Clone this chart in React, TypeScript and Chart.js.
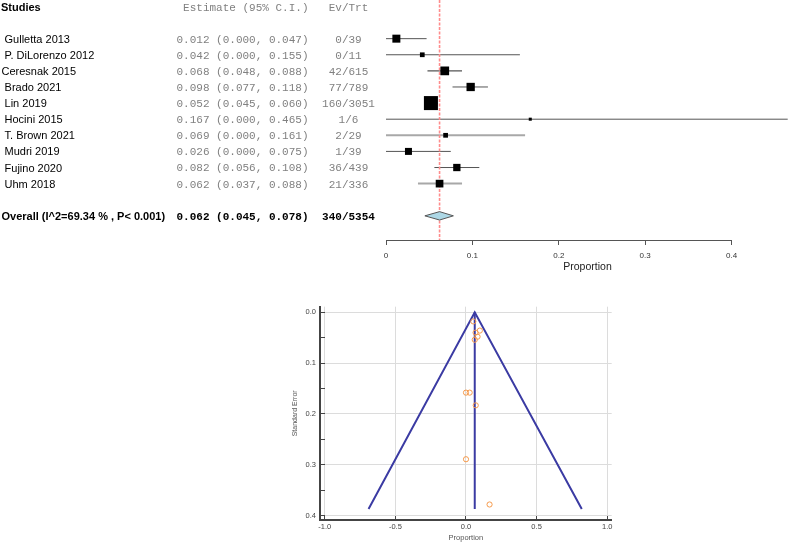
import React, { useEffect, useRef } from 'react';
import { Chart, registerables } from 'chart.js';

Chart.register(...registerables);

// ---------- Forest plot data ----------
const studyNames = [' Gulletta 2013', ' P. DiLorenzo 2012', 'Ceresnak 2015', ' Brado 2021', ' Lin 2019', ' Hocini 2015', ' T. Brown 2021', ' Mudri 2019', ' Fujino 2020', ' Uhm 2018'];
const estimates = [0.012, 0.042, 0.068, 0.098, 0.052, 0.167, 0.069, 0.026, 0.082, 0.062];
const lowerCI = [0.0, 0.0, 0.048, 0.077, 0.045, 0.0, 0.0, 0.0, 0.056, 0.037];
const upperCI = [0.047, 0.155, 0.088, 0.118, 0.06, 0.465, 0.161, 0.075, 0.108, 0.088];
const events = [0, 0, 42, 77, 160, 1, 2, 1, 36, 21];
const totals = [39, 11, 615, 789, 3051, 6, 29, 39, 439, 336];
const weights = [10.3, 3.6, 12.3, 11.1, 31.7, 1.5, 3.6, 7.9, 8.6, 9.5];
const overallLabel = 'Overall (I^2=69.34 % , P< 0.001)';
const overallEstimate = 0.062;
const overallLower = 0.045;
const overallUpper = 0.078;
const overallEvents = 340;
const overallTotal = 5354;
const forestTicks = [0, 0.1, 0.2, 0.3, 0.4];

// ---------- Funnel plot data ----------
const funnelProportion = [0.0, 0.0, 0.068, 0.098, 0.052, 0.167, 0.069, 0.026, 0.082, 0.062];
const funnelSE = [0.158, 0.289, 0.040, 0.036, 0.018, 0.378, 0.183, 0.158, 0.048, 0.054];
const funnelPooled = 0.062;
const funnelLeft = -0.69;
const funnelRight = 0.82;
const funnelMaxSE = 0.387;
const funnelXTicks = [-1, -0.5, 0, 0.5, 1];
const funnelYTicks = [0, 0.05, 0.1, 0.15, 0.2, 0.25, 0.3, 0.35, 0.4];

const SANS = '"Liberation Sans", Arial, sans-serif';
const MONO = '"Liberation Mono", "Courier New", monospace';

const ciColors = ['#555', '#555', '#555', '#555', '#555', '#555', '#a8a8a8', '#555', '#555', '#a8a8a8'];
const ciWidths = [1, 1, 1.2, 1, 1, 1, 2, 1, 1, 2];

const zeroPad = (s: any) => {
  s.paddingLeft = 0;
  s.paddingRight = 0;
  s.paddingTop = 0;
  s.paddingBottom = 0;
};

export default function App() {
  const forestRef = useRef<HTMLCanvasElement | null>(null);
  const funnelRef = useRef<HTMLCanvasElement | null>(null);

  useEffect(() => {
    Chart.defaults.font.family = SANS;
    const overallRow = studyNames.length + 1;

    const fmt = (e: number, l: number, u: number) => `${e.toFixed(3)} (${l.toFixed(3)}, ${u.toFixed(3)})`;

    const forestText = {
      id: 'forestText',
      afterDraw(chart: any) {
        const ctx = chart.ctx;
        const ys = chart.scales.y;
        const xs = chart.scales.x;
        ctx.save();
        ctx.textBaseline = 'middle';
        // header
        const hy = ys.getPixelForValue(-2) + 2;
        ctx.fillStyle = '#000';
        ctx.font = `bold 11px ${SANS}`;
        ctx.textAlign = 'left';
        ctx.fillText('Studies', 1, hy);
        ctx.fillStyle = '#808080';
        ctx.font = `11px ${MONO}`;
        ctx.textAlign = 'right';
        ctx.fillText('Estimate (95% C.I.)', 308.5, hy);
        ctx.textAlign = 'center';
        ctx.fillText('Ev/Trt', 348.5, hy);
        // rows
        studyNames.forEach((name, i) => {
          const y = ys.getPixelForValue(i) + 1;
          ctx.fillStyle = '#000';
          ctx.font = `11px ${SANS}`;
          ctx.textAlign = 'left';
          ctx.fillText(name, 1.5, y);
          ctx.fillStyle = '#808080';
          ctx.font = `11px ${MONO}`;
          ctx.textAlign = 'right';
          ctx.fillText(fmt(estimates[i], lowerCI[i], upperCI[i]), 308.5, y);
          ctx.textAlign = 'center';
          ctx.fillText(`${events[i]}/${totals[i]}`, 348.5, y);
        });
        const oy = ys.getPixelForValue(overallRow) + 1;
        ctx.fillStyle = '#000';
        ctx.font = `bold 11px ${SANS}`;
        ctx.textAlign = 'left';
        ctx.fillText(overallLabel, 1.5, oy);
        ctx.font = `bold 11px ${MONO}`;
        ctx.textAlign = 'right';
        ctx.fillText(fmt(overallEstimate, overallLower, overallUpper), 308.5, oy);
        ctx.textAlign = 'center';
        ctx.fillText(`${overallEvents}/${overallTotal}`, 348.5, oy);
        // axis line from first to last tick
        const ax0 = xs.getPixelForValue(forestTicks[0]);
        const ax1 = xs.getPixelForValue(forestTicks[forestTicks.length - 1]);
        const by = Math.round(chart.chartArea.bottom) + 0.5;
        ctx.strokeStyle = '#555';
        ctx.lineWidth = 1;
        ctx.beginPath();
        ctx.moveTo(ax0, by);
        ctx.lineTo(ax1, by);
        ctx.stroke();
        ctx.restore();
      },
    };

    const ciDatasets = studyNames.map((_, i) => ({
      type: 'line' as const,
      data: [{ x: lowerCI[i], y: i }, { x: upperCI[i], y: i }],
      borderColor: ciColors[i],
      borderWidth: ciWidths[i],
      pointRadius: 0,
      order: 3,
      clip: false as any,
    }));

    const forest = new Chart(forestRef.current!, {
      type: 'scatter',
      data: {
        datasets: [
          {
            type: 'scatter',
            data: estimates.map((e, i) => ({ x: e, y: i })),
            pointStyle: 'rect',
            pointRadius: weights.map((w) => (2.49 * Math.sqrt(w)) / 1.414),
            backgroundColor: '#000',
            borderColor: '#000',
            borderWidth: 0,
            order: 0,
            clip: false as any,
          },
          {
            type: 'line',
            data: [
              { x: overallLower, y: overallRow },
              { x: overallEstimate, y: overallRow - 0.26 },
              { x: overallUpper, y: overallRow },
              { x: overallEstimate, y: overallRow + 0.26 },
              { x: overallLower, y: overallRow },
            ],
            fill: 'shape',
            backgroundColor: '#add8e6',
            borderColor: '#555',
            borderWidth: 1,
            pointRadius: 0,
            tension: 0,
            order: 1,
          } as any,
          ...ciDatasets,
          {
            type: 'line',
            data: [
              { x: overallEstimate, y: -2.4 },
              { x: overallEstimate, y: 12.5 },
            ],
            borderColor: '#ff8c8c',
            borderWidth: 1.6,
            borderDash: [3, 1.5],
            pointRadius: 0,
            order: 2,
          },
        ],
      },
      options: {
        responsive: false,
        animation: false,
        layout: { autoPadding: false, padding: { left: 386, right: 0, top: 0, bottom: 0 } },
        plugins: { legend: { display: false }, tooltip: { enabled: false } },
        scales: {
          x: {
            type: 'linear',
            min: 0,
            max: 0.4665,
            afterBuildTicks: (s: any) => {
              s.ticks = forestTicks.map((v) => ({ value: v }));
            },
            afterFit: (s: any) => {
              s.height = 50;
              zeroPad(s);
            },
            border: { display: false },
            grid: { drawOnChartArea: false, drawTicks: true, tickLength: 5, tickColor: '#555' },
            ticks: { font: { size: 8, family: SANS }, color: '#333', padding: 6, maxRotation: 0, autoSkip: false },
            title: { display: true, text: 'Proportion', font: { size: 10.5, family: SANS }, color: '#222', padding: { top: 0, bottom: 16.2 } },
          },
          y: {
            type: 'linear',
            display: false,
            reverse: true,
            min: -2.4,
            max: 12.5,
            afterFit: zeroPad,
          },
        },
      },
      plugins: [forestText],
    });

    const funnel = new Chart(funnelRef.current!, {
      type: 'scatter',
      data: {
        datasets: [
          {
            type: 'scatter',
            data: funnelProportion.map((p, i) => ({ x: p, y: funnelSE[i] })),
            pointStyle: 'circle',
            pointRadius: 2.6,
            backgroundColor: 'rgba(0,0,0,0)',
            borderColor: '#f59a4c',
            borderWidth: 1,
            order: 0,
          },
          {
            type: 'line',
            data: [
              { x: funnelLeft, y: funnelMaxSE },
              { x: funnelPooled, y: 0 },
              { x: funnelRight, y: funnelMaxSE },
            ],
            borderColor: '#3b3ba3',
            borderWidth: 2,
            pointRadius: 0,
            tension: 0,
            order: 1,
          },
          {
            type: 'line',
            data: [
              { x: funnelPooled, y: 0 },
              { x: funnelPooled, y: funnelMaxSE },
            ],
            borderColor: '#3b3ba3',
            borderWidth: 2,
            pointRadius: 0,
            order: 1,
          },
        ],
      },
      options: {
        responsive: false,
        animation: false,
        layout: { autoPadding: false, padding: { left: 280, right: 177.3, top: 6.7, bottom: 0 } },
        plugins: { legend: { display: false }, tooltip: { enabled: false } },
        scales: {
          x: {
            type: 'linear',
            min: -1.034,
            max: 1.032,
            afterBuildTicks: (s: any) => {
              s.ticks = funnelXTicks.map((v) => ({ value: v }));
            },
            afterFit: (s: any) => {
              s.height = 24;
              zeroPad(s);
            },
            border: { display: true, color: '#444', width: 2 },
            grid: { color: '#dcdcdc', drawTicks: true, tickLength: -5, tickColor: '#444' },
            ticks: {
              font: { size: 7.5, family: SANS },
              color: '#444',
              padding: 7,
              maxRotation: 0,
              autoSkip: false,
              callback: (v: any) => Number(v).toFixed(1),
            },
            title: { display: true, text: 'Proportion', font: { size: 7.5, family: SANS }, color: '#555', padding: { top: 0, bottom: 1.2 } },
          },
          y: {
            type: 'linear',
            reverse: true,
            min: -0.011,
            max: 0.4085,
            afterBuildTicks: (s: any) => {
              s.ticks = funnelYTicks.map((v) => ({ value: v }));
            },
            afterFit: (s: any) => {
              s.width = 40;
              zeroPad(s);
            },
            border: { display: true, color: '#444', width: 2 },
            grid: {
              color: (c: any) => (c.tick && Math.round(c.tick.value * 100) % 10 === 0 ? '#dcdcdc' : 'rgba(0,0,0,0)'),
              drawTicks: true,
              tickLength: -5,
              tickColor: '#444',
            },
            ticks: {
              font: { size: 7.5, family: SANS },
              color: '#444',
              padding: 9,
              autoSkip: false,
              callback: (v: any) => (Math.round(Number(v) * 100) % 10 === 0 ? Number(v).toFixed(1) : ''),
            },
            title: { display: true, text: 'Standard Error', font: { size: 7, family: SANS }, color: '#555', padding: { top: 10.8, bottom: 0 } },
          },
        },
      },
    });

    return () => {
      forest.destroy();
      funnel.destroy();
    };
  }, []);

  return (
    <div style={{ position: 'absolute', left: 0, top: 0, width: 789, height: 544, background: '#fff', overflow: 'hidden' }}>
      <div style={{ position: 'absolute', left: 0, top: 0, width: 789, height: 290 }}>
        <canvas ref={forestRef} width={789} height={290} style={{ width: 789, height: 290, display: 'block' }} />
      </div>
      <div style={{ position: 'absolute', left: 0, top: 300, width: 789, height: 244 }}>
        <canvas ref={funnelRef} width={789} height={244} style={{ width: 789, height: 244, display: 'block' }} />
      </div>
    </div>
  );
}
